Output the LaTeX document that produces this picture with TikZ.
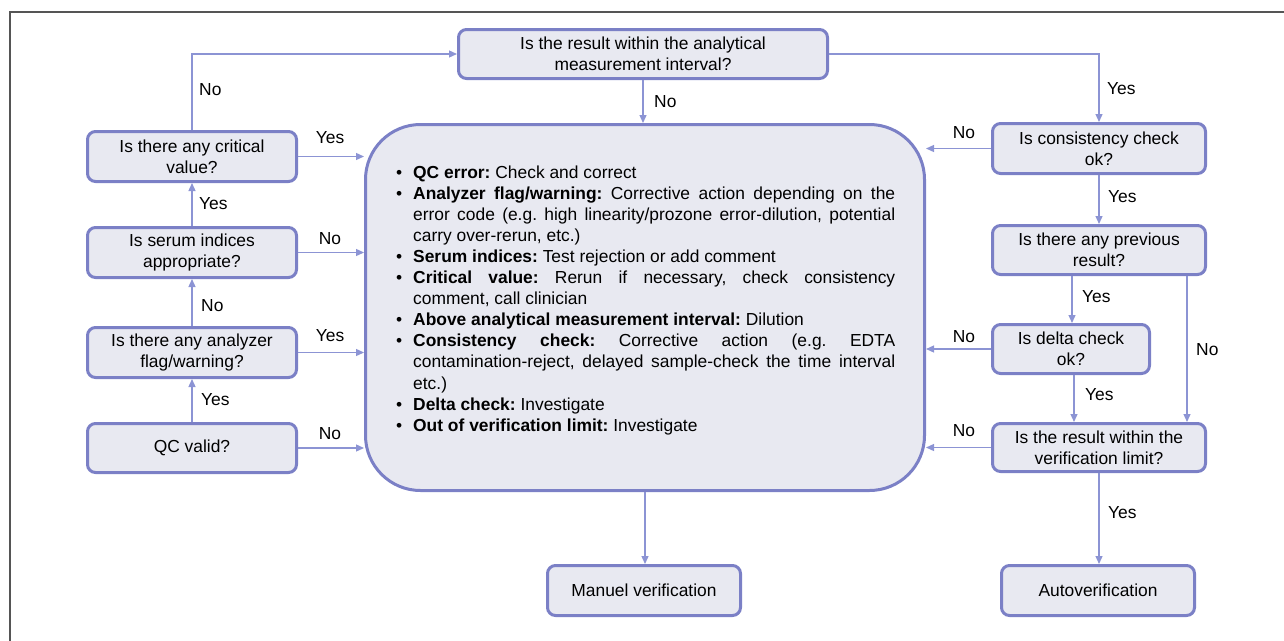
\documentclass[tikz,border=0pt]{standalone}
\usepackage{fontspec}
\setmainfont{Liberation Sans}
\usetikzlibrary{arrows.meta}
\definecolor{boxborder}{HTML}{7B80C6}
\definecolor{boxfill}{HTML}{E8E9F1}
\definecolor{connc}{HTML}{8C94D4}
\definecolor{framec}{HTML}{555555}
\newcommand{\bitem}[2]{\par\noindent\hangindent=17pt\hangafter=1\makebox[17pt][l]{\textbullet}\textbf{#1} #2}
\tikzset{
  qbox/.style={draw=boxborder, fill=boxfill, line width=3pt, rounded corners=8pt,
    align=center, inner sep=2pt, font=\fontsize{17.4}{21}\selectfont},
  conn/.style={draw=connc, line width=1.3pt, -{Triangle[length=8pt,width=7pt]}},
  lbl/.style={inner sep=0pt, font=\fontsize{17.4}{21}\selectfont}
}
\begin{document}
\begin{tikzpicture}[x=1pt,y=-1pt]
\useasboundingbox (0,0) rectangle (1284,640);
\draw[framec, line width=2.5pt] (10,650) -- (10,12) -- (1295,12);

% big box
\node[draw=boxborder, fill=boxfill, line width=3pt, rounded corners=55pt,
  minimum width=559, minimum height=366, inner sep=0pt] (big) at (645,307.5) {};
\node[anchor=base west, inner sep=0pt] (bigtext) at (396,178) {\parbox[t]{499pt}{%
  \fontsize{17.4}{21.1}\selectfont\frenchspacing\hyphenpenalty=10000\hbadness=10000
  \bitem{QC error:}{Check and correct}
  \bitem{Analyzer flag/warning:}{Corrective action depending on the\linebreak error code (e.g. high linearity/prozone error-dilution, potential\linebreak carry over-rerun, etc.)}
  \bitem{Serum indices:}{Test rejection or add comment}
  \bitem{Critical value:}{Rerun if necessary, check consistency\linebreak comment, call clinician}
  \bitem{Above analytical measurement interval:}{Dilution}
  \bitem{Consistency check:}{Corrective action (e.g. EDTA\linebreak contamination-reject, delayed sample-check the time interval\linebreak etc.)}
  \bitem{Delta check:}{Investigate}
  \bitem{Out of verification limit:}{Investigate}\par}};

% top
\node[qbox, minimum width=369, minimum height=49] (top) at (643,54) {Is the result within the analytical\\measurement interval?};

% left column
\node[qbox, minimum width=209, minimum height=50] (crit) at (192,156.5) {Is there any critical\\value?};
\node[qbox, minimum width=209, minimum height=50] (serum) at (192,252.5) {Is serum indices\\appropriate?};
\node[qbox, minimum width=209, minimum height=50] (anal) at (192,352.5) {Is there any analyzer\\flag/warning?};
\node[qbox, minimum width=209, minimum height=49] (qc) at (192,448) {QC valid?};

% right column
\node[qbox, minimum width=213, minimum height=50] (cons) at (1099,148.5) {Is consistency check\\ok?};
\node[qbox, minimum width=213, minimum height=49] (prev) at (1099,250) {Is there any previous\\result?};
\node[qbox, minimum width=157, minimum height=49] (delta) at (1071,349) {Is delta check\\ok?};
\node[qbox, minimum width=213, minimum height=48] (verif) at (1099,447.5) {Is the result within the\\verification limit?};

% bottom
\node[qbox, minimum width=193, minimum height=50] (manuel) at (644,590.5) {Manuel verification};
\node[qbox, minimum width=193, minimum height=50] (auto) at (1098,590.5) {Autoverification};

% connectors left
\draw[conn] (qc.north) -- (anal.south);
\draw[conn] (anal.north) -- (serum.south);
\draw[conn] (serum.north) -- (crit.south);
\draw[conn] (crit.north) |- (top.west);
\draw[conn] (crit.east) -- (crit.east -| big.west);
\draw[conn] (serum.east) -- (serum.east -| big.west);
\draw[conn] (anal.east) -- (anal.east -| big.west);
\draw[conn] (qc.east) -- (qc.east -| big.west);

% connectors top / right
\draw[conn] (top.south) -- (top.south |- big.north);
\draw[conn] (top.east) -| (cons.north);
\draw[conn] (cons.west) -- (cons.west -| big.east);
\draw[conn] (cons.south) -- (prev.north);
\draw[conn] ([xshift=1pt]delta.north |- prev.south) -- ([xshift=1pt]delta.north);
\draw[conn] ([xshift=88pt]prev.south) -- ([xshift=88pt]prev.south |- verif.north);
\draw[conn] (delta.west) -- (delta.west -| big.east);
\draw[conn] ([xshift=3pt]delta.south) -- ([xshift=3pt]delta.south |- verif.north);
\draw[conn] (verif.west) -- (verif.west -| big.east);
\draw[conn] (verif.south) -- (verif.south |- auto.north);
\draw[conn] (big.south) -- (big.south |- manuel.north);

% labels
\node[lbl, anchor=west] (n1) at (199,90) {No};
\node[lbl] (y1) at (330,138) {Yes};
\node[lbl, anchor=west] (y2) at (199,204) {Yes};
\node[lbl] (n2) at (330,239) {No};
\node[lbl, anchor=west] (n3) at (201,306) {No};
\node[lbl] (y3) at (330,336) {Yes};
\node[lbl, anchor=west] (y4) at (201,400) {Yes};
\node[lbl] (n4) at (330,434) {No};
\node[lbl, anchor=west] (n5) at (654,102) {No};
\node[lbl, anchor=west] (y5) at (1107,89) {Yes};
\node[lbl] (n6) at (964,133) {No};
\node[lbl, anchor=west] (y6) at (1108,197) {Yes};
\node[lbl, anchor=west] (y7) at (1082,297) {Yes};
\node[lbl] (n7) at (964,337) {No};
\node[lbl, anchor=west] (n8) at (1196,350) {No};
\node[lbl, anchor=west] (y8) at (1085,395) {Yes};
\node[lbl] (n9) at (964,431) {No};
\node[lbl, anchor=west] (y9) at (1108,513) {Yes};
\end{tikzpicture}
\end{document}
